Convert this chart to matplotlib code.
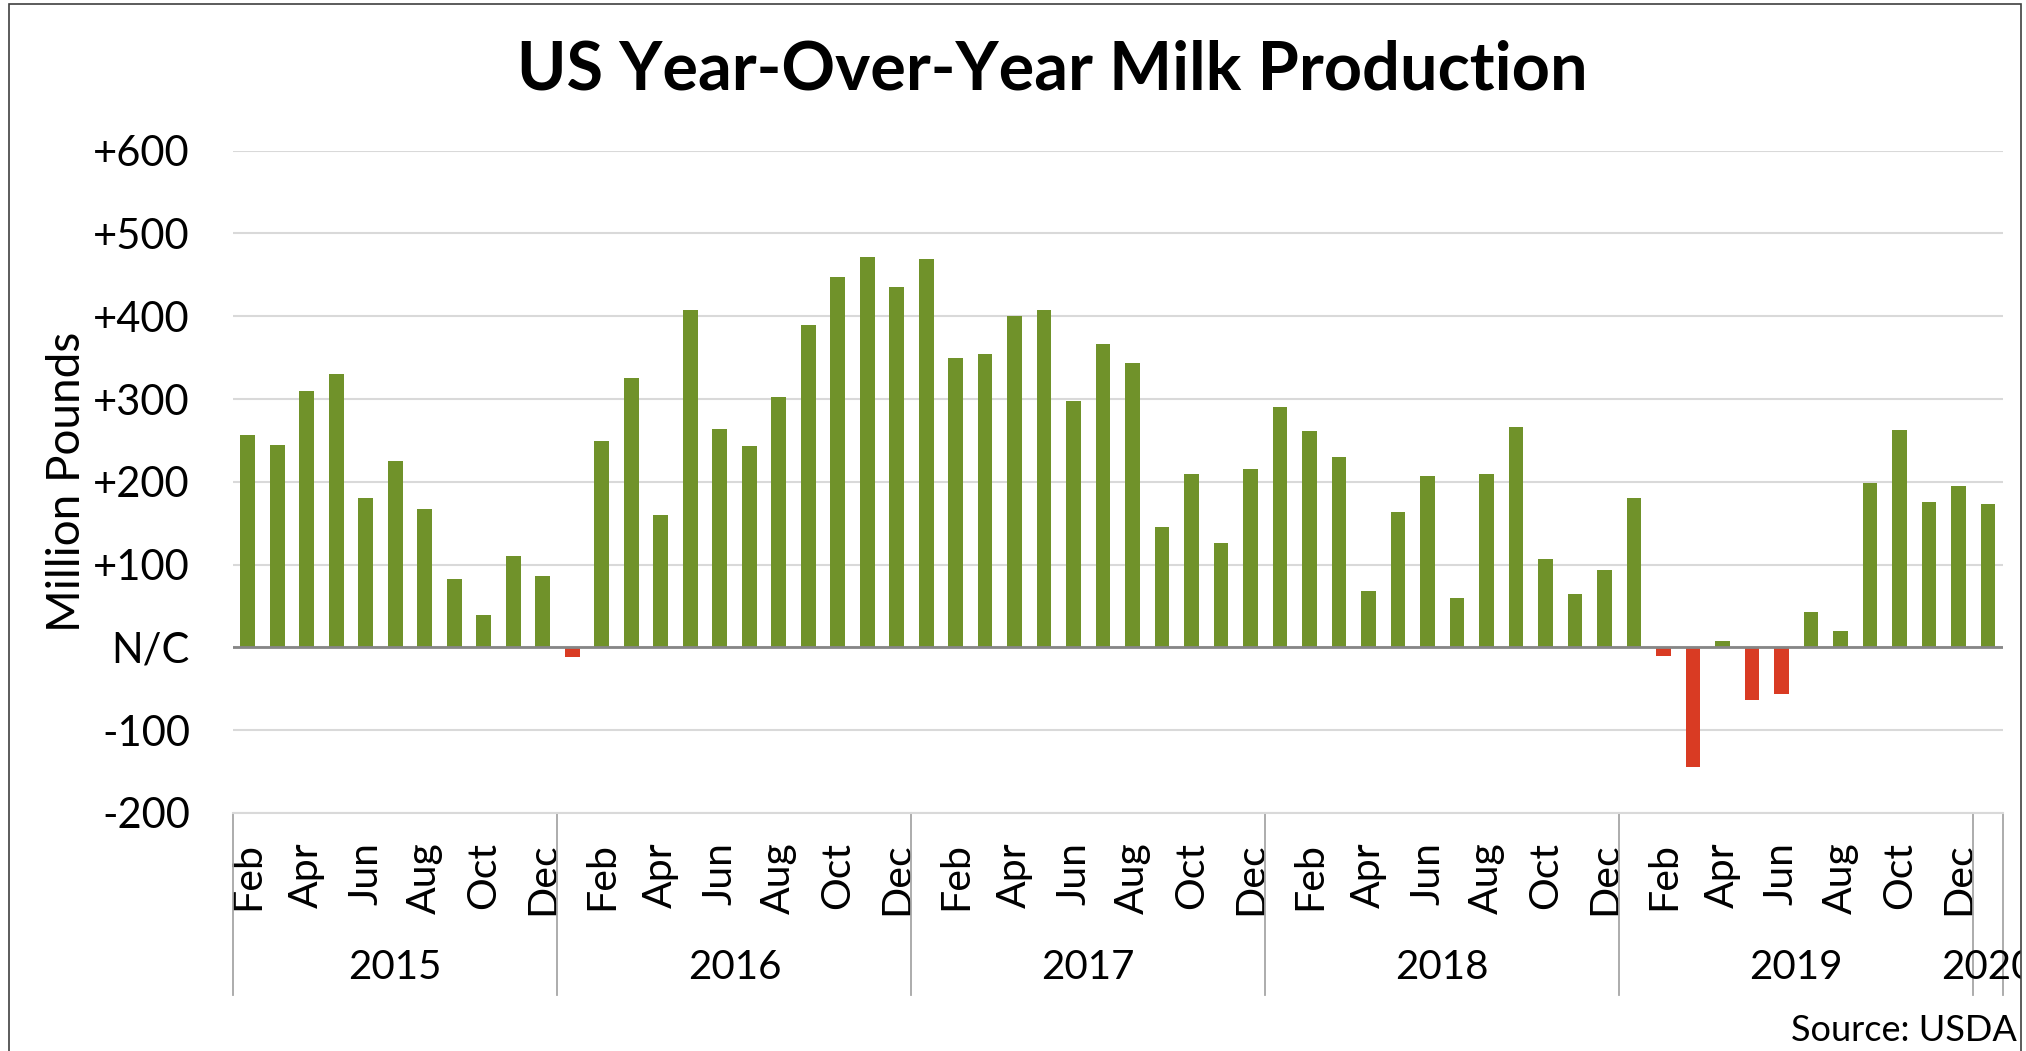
import matplotlib
matplotlib.use("Agg")
import matplotlib.pyplot as plt
import matplotlib.transforms as mtransforms
from matplotlib.patches import Rectangle
import numpy as np

plt.rcParams['font.family'] = ['Lato', 'DejaVu Sans']

# monthly change vs. year before, Feb 2015 .. Jan 2020 (million pounds)
months = ['Feb', 'Mar', 'Apr', 'May', 'Jun', 'Jul', 'Aug', 'Sep', 'Oct', 'Nov', 'Dec'] + \
         ['Jan', 'Feb', 'Mar', 'Apr', 'May', 'Jun', 'Jul', 'Aug', 'Sep', 'Oct', 'Nov', 'Dec'] * 4 + \
         ['Jan']
years = ['2015', '2016', '2017', '2018', '2019', '2020']
months_per_year = [11, 12, 12, 12, 12, 1]
values = [256, 244, 310, 330, 181, 225, 167, 83, 39, 111, 86,
          -12, 249, 326, 160, 408, 264, 243, 302, 390, 448, 471, 435,
          469, 349, 354, 400, 408, 298, 366, 343, 146, 210, 126, 216,
          291, 262, 230, 68, 164, 207, 60, 210, 266, 107, 65, 94,
          181, -11, -144, 8, -64, -56, 43, 20, 198, 263, 176, 195,
          173]
yticks = [-200, -100, 0, 100, 200, 300, 400, 500, 600]
ytick_labels = ['-200', '-100', 'N/C', '+100', '+200', '+300', '+400', '+500', '+600']

green = '#70922A'
red = '#D93B23'

fig = plt.figure(figsize=(20.26, 10.51), dpi=100)
ax = fig.add_axes([0.115, 0.2265, 0.8735, 0.6301])

x = np.arange(len(values))
colors = [green if v >= 0 else red for v in values]
ax.bar(x, values, width=0.5, color=colors, zorder=3)

ax.set_xlim(-0.5, len(values) - 0.5)
ax.set_ylim(-200, 600)
ax.set_yticks(yticks)
ax.set_yticklabels(ytick_labels, fontsize=30)
ax.tick_params(axis='y', length=0, pad=31)
ax.grid(axis='y', color='#D9D9D9', linewidth=1.5, zorder=0)
ax.axhline(0, color='#868686', linewidth=2, zorder=4)

for s in ['top', 'right', 'left']:
    ax.spines[s].set_visible(False)
ax.spines['bottom'].set_color('#D9D9D9')
ax.spines['bottom'].set_linewidth(1.5)

# month labels every other month
tick_idx = list(range(0, len(values), 2))
ax.set_xticks(tick_idx)
ax.set_xticklabels([months[i] for i in tick_idx], rotation=90, fontsize=29.5)
ax.tick_params(axis='x', length=0, pad=21)

ax.set_ylabel('Million Pounds', fontsize=33)
ax.yaxis.set_label_coords(-0.082, 0.5)

# year groups under the month labels
trans = mtransforms.blended_transform_factory(ax.transData, ax.transAxes)
frame = Rectangle((0.0044, -0.05), 0.993, 1.0462, transform=fig.transFigure,
                  fill=False, edgecolor='#404040', linewidth=1.2)
fig.patches.append(frame)

edges = np.concatenate([[0], np.cumsum(months_per_year)]) - 0.5
for e in edges:
    ax.plot([e, e], [0, -0.275], transform=trans, color='#A6A6A6',
            linewidth=1.3, clip_on=False)
for i, yr in enumerate(years):
    mid = (edges[i] + edges[i + 1]) / 2
    t = ax.text(mid, -0.234, yr, transform=trans, ha='center', va='center',
                fontsize=29, clip_on=True)
    t.set_clip_path(frame)

fig.text(0.5195, 0.933, 'US Year-Over-Year Milk Production', ha='center',
         va='center', fontsize=48, fontweight='bold')
fig.text(0.9955, 0.004, 'Source: USDA', ha='right', va='bottom', fontsize=26)

fig.savefig('out.png', dpi=100)
